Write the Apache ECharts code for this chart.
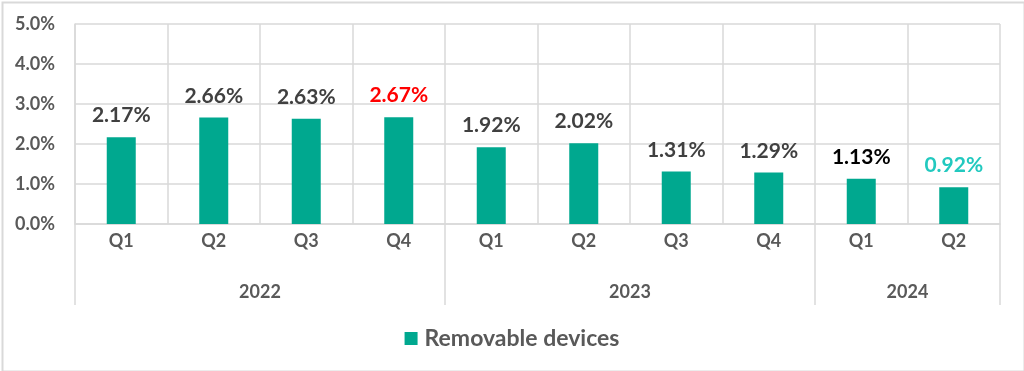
<!DOCTYPE html>
<html>
<head>
<meta charset="utf-8">
<script src="https://cdn.jsdelivr.net/npm/echarts@6/dist/echarts.min.js"></script>
<style>html,body{margin:0;padding:0;background:#fff}#c{width:1024px;height:371px}</style>
</head>
<body>
<div id="c"></div>
<script>
const quarters = ['Q1','Q2','Q3','Q4','Q1','Q2','Q3','Q4','Q1','Q2'];
const values = [2.17, 2.66, 2.63, 2.67, 1.92, 2.02, 1.31, 1.29, 1.13, 0.92];
const years = ['2022','2023','2024'];
const quartersPerYear = [4, 4, 2];
const yTicks = [0, 1, 2, 3, 4, 5];
const seriesName = 'Removable devices';
const labelColors = ['#404040','#404040','#404040','#ff0000','#404040','#404040','#404040','#404040','#000000','#22c9bf'];

// Build a half-slot year axis: 2*N+1 points, year labels at centre of each group
const totalSlots = quartersPerYear.reduce((a,b)=>a+b,0) * 2;
const yearAxisData = new Array(totalSlots + 1).fill('');
const boundaryIdx = [0];
let acc = 0;
years.forEach((y, i) => {
  const start = acc;
  acc += quartersPerYear[i] * 2;
  yearAxisData[(start + acc) / 2] = y;
  boundaryIdx.push(acc);
});

const font = 'Lato, "Open Sans", sans-serif';
const chart = echarts.init(document.getElementById('c'));
chart.setOption({
  animation: false,
  textStyle: { fontFamily: font },
  graphic: [{
    type: 'rect', left: 0, top: 0, silent: true,
    shape: { x: 0, y: 0, width: 1022, height: 369 },
    style: { fill: 'none', stroke: '#d9d9d9', lineWidth: 2 },
    position: [1, 1]
  }],
  grid: { left: 75, right: 24, top: 24, bottom: 147 },
  legend: {
    top: 322, left: 'center',
    icon: 'rect', itemWidth: 13, itemHeight: 13, itemGap: 10,
    textStyle: { fontSize: 23, fontWeight: 'bold', color: '#595959', fontFamily: font, padding: [0, 0, 0, 2] },
    data: [seriesName]
  },
  xAxis: [{
    type: 'category',
    data: quarters,
    boundaryGap: true,
    axisLine: { show: true, lineStyle: { color: '#d9d9d9', width: 1.5 } },
    axisTick: { show: false },
    splitLine: { show: true, lineStyle: { color: '#d9d9d9', width: 1.5 } },
    axisLabel: { margin: 8, fontSize: 18, fontWeight: 'bold', color: '#595959', fontFamily: font }
  }, {
    type: 'category',
    position: 'bottom',
    data: yearAxisData,
    boundaryGap: false,
    axisLine: { show: false },
    axisTick: {
      show: true, length: 81,
      interval: (idx) => boundaryIdx.includes(idx),
      lineStyle: { color: '#d9d9d9', width: 1.5 }
    },
    splitLine: { show: false },
    axisLabel: {
      interval: 0, margin: 59,
      fontSize: 18, fontWeight: 'bold', color: '#595959', fontFamily: font
    }
  }],
  yAxis: {
    type: 'value',
    min: yTicks[0], max: yTicks[yTicks.length - 1], interval: 1,
    axisLine: { show: true, lineStyle: { color: '#d9d9d9', width: 1.5 } },
    axisTick: { show: false },
    splitLine: { show: true, lineStyle: { color: '#d9d9d9', width: 1.5 } },
    axisLabel: {
      margin: 20, fontSize: 18, fontWeight: 'bold', color: '#595959', fontFamily: font,
      formatter: (v) => v.toFixed(1) + '%'
    }
  },
  series: [{
    name: seriesName,
    type: 'bar',
    xAxisIndex: 0,
    barWidth: 29,
    itemStyle: { color: '#00a88f' },
    label: {
      show: true, position: 'top', distance: 11,
      fontSize: 21, fontWeight: 'bold', fontFamily: font,
      formatter: (p) => p.value.toFixed(2) + '%'
    },
    data: values.map((v, i) => ({ value: v, label: { color: labelColors[i] } }))
  }]
});
</script>
</body>
</html>
